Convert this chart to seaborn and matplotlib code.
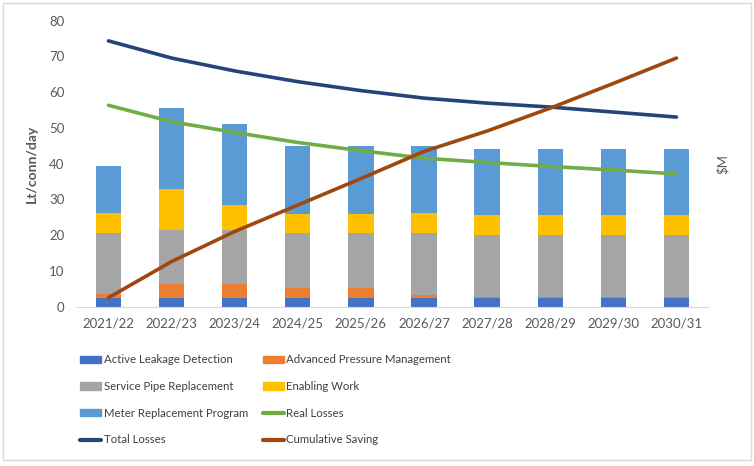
import numpy as np
import matplotlib
matplotlib.use("Agg")
import matplotlib.pyplot as plt
import matplotlib.patches as mpatches
from matplotlib.lines import Line2D
import seaborn as sns

years = ["2021/22", "2022/23", "2023/24", "2024/25", "2025/26",
         "2026/27", "2027/28", "2028/29", "2029/30", "2030/31"]

# stacked bar components (Lt/conn/day)
active_leakage = [2.5, 2.5, 2.5, 2.5, 2.5, 2.5, 2.5, 2.5, 2.5, 2.5]
pressure_mgmt = [1.0, 3.8, 3.8, 2.8, 2.8, 0.7, 0.3, 0.3, 0.3, 0.3]
service_pipe = [17.2, 15.2, 15.2, 15.2, 15.2, 17.5, 17.3, 17.3, 17.3, 17.3]
enabling_work = [5.6, 11.3, 6.9, 5.5, 5.5, 5.4, 5.5, 5.5, 5.5, 5.5]
meter_replacement = [13.1, 22.7, 22.7, 18.8, 18.8, 18.7, 18.5, 18.5, 18.5, 18.5]

# lines
real_losses = [56.3, 51.7, 48.7, 45.9, 43.6, 41.5, 40.3, 39.2, 38.2, 37.1]
total_losses = [74.3, 69.5, 65.9, 62.9, 60.4, 58.3, 56.9, 55.8, 54.4, 53.0]
cumulative_saving = [2.5, 12.6, 21.0, 28.4, 35.8, 43.4, 49.1, 55.5, 62.4, 69.5]

bar_names = ["Active Leakage Detection", "Advanced Pressure Management",
             "Service Pipe Replacement", "Enabling Work", "Meter Replacement Program"]
bar_colors = ["#4472C4", "#ED7D31", "#A5A5A5", "#FFC000", "#5B9BD5"]
bar_values = [active_leakage, pressure_mgmt, service_pipe, enabling_work, meter_replacement]

line_names = ["Real Losses", "Total Losses", "Cumulative Saving"]
line_colors = ["#70AD47", "#264478", "#9E480E"]
line_values = [real_losses, total_losses, cumulative_saving]

sns.set_style("white")
plt.rcParams["font.family"] = ["Lato", "DejaVu Sans"]
txt = "#595959"

fig = plt.figure(figsize=(7.54, 4.66), dpi=100)
ax = fig.add_axes([0.102, 0.342, 0.837, 0.614])

# stacked bars: draw cumulative totals from top layer downwards
cum = np.cumsum(np.array(bar_values), axis=0)
for i in range(len(bar_names) - 1, -1, -1):
    sns.barplot(x=years, y=cum[i], color=bar_colors[i], width=0.4,
                saturation=1, errorbar=None, linewidth=0, ax=ax)

pos = np.arange(len(years))
for name, col, vals in zip(line_names, line_colors, line_values):
    sns.lineplot(x=pos, y=vals, color=col, linewidth=2.6, ax=ax)

ax.set_xlim(-0.5, len(years) - 0.5)
ax.set_ylim(0, 80)
ax.set_yticks(range(0, 81, 10))
ax.set_xlabel("")
ax.set_ylabel("Lt/conn/day", fontsize=10, color=txt, fontweight="bold", labelpad=8)
ax.tick_params(axis="both", length=0, labelsize=9.5, labelcolor=txt)
ax.tick_params(axis="y", pad=9)
ax.tick_params(axis="x", pad=8)
for s in ["left", "right", "top"]:
    ax.spines[s].set_visible(False)
ax.spines["bottom"].set_color("#d9d9d9")

ax2 = ax.twinx()
ax2.set_yticks([])
for s in ax2.spines.values():
    s.set_visible(False)
ax2.set_ylabel("$M", fontsize=9.5, color=txt, labelpad=6)

# legend, row-wise order in two columns
patches = [mpatches.Patch(color=c, label=n) for n, c in zip(bar_names, bar_colors)]
lines = [Line2D([], [], color=c, linewidth=3, label=n) for n, c in zip(line_names, line_colors)]
h = patches + lines
order = [0, 2, 4, 6, 1, 3, 5, 7]
fig.legend([h[i] for i in order], [h[i].get_label() for i in order],
           ncol=2, loc="center", bbox_to_anchor=(0.352, 0.142), frameon=False,
           fontsize=8.2, labelcolor="#404040", handlelength=1.85, handleheight=0.6,
           handletextpad=0.25, columnspacing=1.3, labelspacing=1.38)

fig.add_artist(mpatches.Rectangle((0.0036, 0.013), 0.9924, 0.981, transform=fig.transFigure,
                                  fill=False, edgecolor="#d9d9d9", linewidth=1))

fig.savefig("out.png", dpi=100)
